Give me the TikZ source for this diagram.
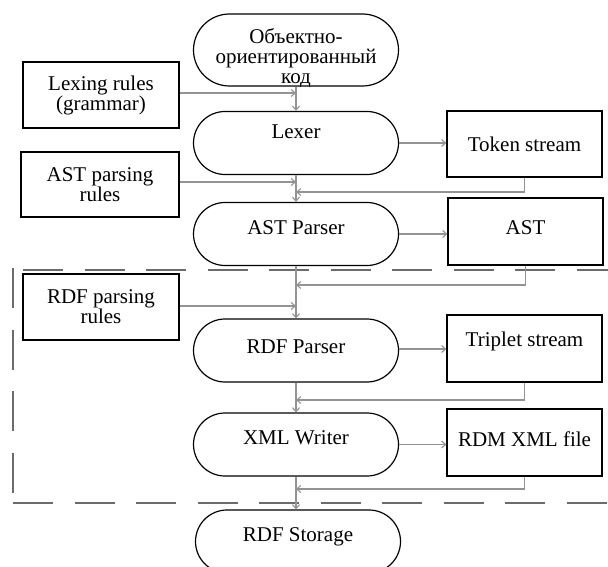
\documentclass[tikz,border=0pt]{standalone}
\usepackage{fontspec}
\setmainfont{Liberation Serif}
\usetikzlibrary{shapes.misc,arrows.meta,calc}
\begin{document}
\begin{tikzpicture}[x=1pt,y=-1pt,
  every node/.style={font=\fontsize{21}{20}\selectfont},
  stad/.style={rounded rectangle, draw=black, line width=1.2pt,
    minimum width=205pt, minimum height=63pt, inner sep=0pt},
  rbox/.style={rectangle, draw=black, line width=1.2pt,
    minimum width=155pt, minimum height=66pt, inner sep=0pt, align=center},
  lift/.style={text height=15pt, text depth=#1},
  flow/.style={draw=gray!85, line width=1.1pt,
    -{Straight Barb[length=4pt,width=7pt]}},
  frame/.style={draw=black!58, line width=2.8pt, dash pattern=on 40pt off 21.5pt}]
\useasboundingbox (0,0) rectangle (608,567);

% process column
\node[stad, minimum height=72pt,
  label={[align=center, yshift=-8.5pt]center:Объектно-\\ориентированный\\код}]
  (src) at (296,50) {};
\node[stad, lift=23pt] (lexer) at (296,143) {Lexer};
\node[stad, lift=15pt] (astp)  at (296,234) {AST Parser};
\node[stad, lift=10pt] (rdfp)  at (296,350.5) {RDF Parser};
\node[stad, lift=16pt] (xmlw)  at (296,444.5) {XML Writer};
\node[stad, lift=15pt] (store) at (298,541.5) {RDF Storage};

% rule inputs
\node[rbox, minimum width=156pt] (lexrules) at (101,95) {Lexing rules\\(grammar)};
\node[rbox, minimum width=158pt, minimum height=65pt] (astrules) at (100,184.5) {AST parsing\\rules};
\node[rbox, minimum width=156pt] (rdfrules) at (101,307) {RDF parsing\\rules};

% intermediate results
\node[rbox] (tokens) at (524.5,144) {Token stream};
\node[rbox, minimum height=67pt, lift=10pt] (ast) at (525.5,231.5) {AST};
\node[rbox, minimum height=67pt, lift=20pt] (triplets) at (524.5,348.5) {Triplet stream};
\node[rbox, minimum height=67pt, lift=8pt] (rdm) at (524.5,442.5) {RDM XML file};

% dashed frame around the RDF stage
\draw[frame] (23,270) -- (608,270);
\draw[frame] (13,268) -- (13,503);
\draw[frame] (13,503) -- (608,503);

% junctions on the main column
\coordinate (j1) at (296,192);
\coordinate (j2) at (296,285);
\coordinate (j3) at (296,400);
\coordinate (j4) at (296,489);

% main flow
\draw[flow] (src.south) -- (lexer.north);
\draw[flow] (lexer.south) -- (astp.north);
\draw[flow] (astp.south) -- (rdfp.north);
\draw[flow] (rdfp.south) -- (xmlw.north);
\draw[flow] (xmlw.south) -- (xmlw.south |- store.north);

% rules feeding the column
\draw[flow] ([yshift=2pt]lexrules.east) -- ([yshift=2pt]lexrules.east -| src.south);
\draw[flow] ([yshift=2.5pt]astrules.east) -- ([yshift=2.5pt]astrules.east -| lexer.south);
\draw[flow] ([yshift=1pt]rdfrules.east) -- ([yshift=1pt]rdfrules.east -| astp.south);

% outputs
\draw[flow] (lexer.east) -- (lexer.east -| tokens.west);
\draw[flow] (astp.east) -- (astp.east -| ast.west);
\draw[flow] ([yshift=1.5pt]rdfp.east) -- ([yshift=1.5pt]rdfp.east -| triplets.west);
\draw[flow] (xmlw.east) -- (xmlw.east -| rdm.west);

% results returned to the column
\draw[flow] (tokens.south) |- (j1);
\draw[flow] (ast.south) |- (j2);
\draw[flow] (triplets.south) |- (j3);
\draw[flow] (rdm.south) |- (j4);
\end{tikzpicture}
\end{document}
